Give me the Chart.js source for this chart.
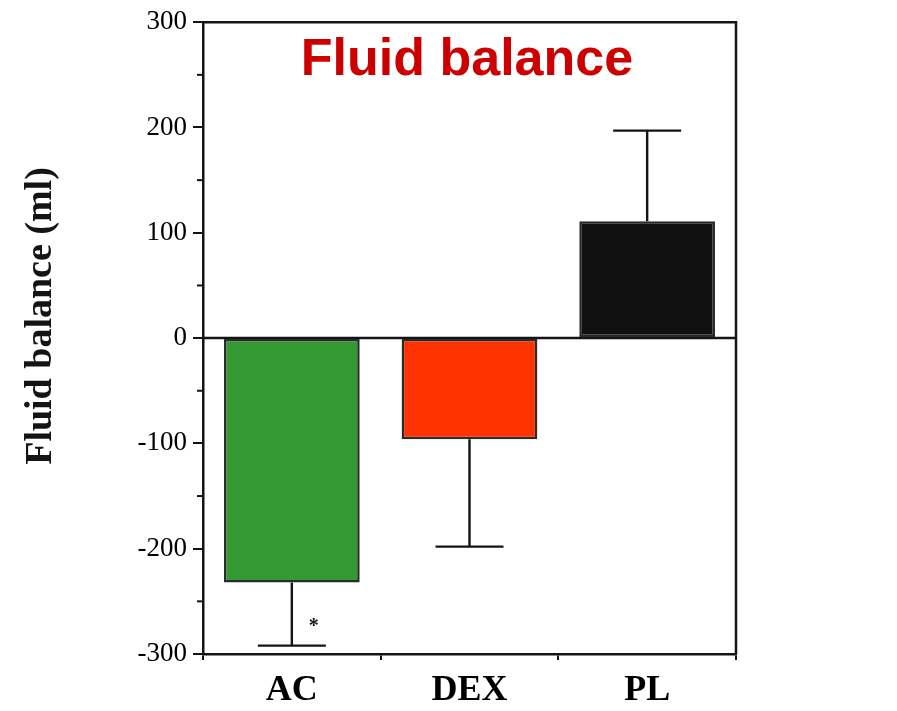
<!DOCTYPE html>
<html>
<head>
<meta charset="utf-8">
<title>Fluid balance</title>
<script src="https://cdn.jsdelivr.net/npm/chart.js@4.4.1/dist/chart.umd.min.js"></script>
<style>
    body { margin: 0; background: #fff; }
    #wrap { width: 897px; height: 711px; }
</style>
</head>
<body>
<div id="wrap"><canvas id="chartFluid" width="897" height="711"></canvas></div>
<script>
// values (ml)
var groups = ["AC", "DEX", "PL"];
var balance = [-232, -96, 111];
var errLow = [60, 102, 0];   // SD drawn below the bar
var errHigh = [0, 0, 86];    // SD drawn above the bar
var marks = ["*", "", ""];
var barColors = ["#339933", "#ff3300", "#111111"];

var chartTitle = "Fluid balance";
var yTitle = "Fluid balance (ml)";

var ink = "#141414";

var decorPlugin = {
    id: "decor",
    beforeDatasetsDraw: function (chart) {
        var ctx = chart.ctx;
        var a = chart.chartArea;
        var y = chart.scales.y;
        ctx.save();
        ctx.strokeStyle = ink;
        ctx.lineWidth = 2.5;
        // zero line
        var y0 = y.getPixelForValue(0);
        ctx.beginPath();
        ctx.moveTo(a.left, y0);
        ctx.lineTo(a.right, y0);
        ctx.stroke();
        // top and right frame
        ctx.beginPath();
        ctx.moveTo(a.left, a.top);
        ctx.lineTo(a.right, a.top);
        ctx.lineTo(a.right, a.bottom);
        ctx.stroke();
        // short minor ticks at the 50s
        ctx.lineWidth = 2;
        for (var v = -250; v <= 250; v += 100) {
            var py = y.getPixelForValue(v);
            ctx.beginPath();
            ctx.moveTo(a.left - 6, py);
            ctx.lineTo(a.left, py);
            ctx.stroke();
        }
        ctx.restore();
    },
    afterDatasetsDraw: function (chart) {
        var ctx = chart.ctx;
        var y = chart.scales.y;
        var meta = chart.getDatasetMeta(0);
        ctx.save();
        ctx.strokeStyle = ink;
        ctx.lineWidth = 2.4;
        meta.data.forEach(function (bar, i) {
            var capHalf = 34;
            var ends = [];
            if (errLow[i]) ends.push(balance[i] - errLow[i]);
            if (errHigh[i]) ends.push(balance[i] + errHigh[i]);
            ends.forEach(function (e) {
                var pe = y.getPixelForValue(e);
                ctx.beginPath();
                ctx.moveTo(bar.x, y.getPixelForValue(balance[i]));
                ctx.lineTo(bar.x, pe);
                ctx.moveTo(bar.x - capHalf, pe);
                ctx.lineTo(bar.x + capHalf, pe);
                ctx.stroke();
            });
            if (marks[i]) {
                ctx.fillStyle = ink;
                ctx.font = "bold 20px 'Liberation Serif'";
                ctx.textAlign = "center";
                ctx.textBaseline = "middle";
                var low = balance[i] - errLow[i];
                ctx.fillText(marks[i], bar.x + 22, y.getPixelForValue(low + 20) + 2);
            }
        });
        ctx.restore();
    },
    afterDraw: function (chart) {
        var ctx = chart.ctx;
        ctx.save();
        // red title
        ctx.fillStyle = "#cc0000";
        ctx.font = "bold 52px 'Liberation Sans'";
        ctx.textAlign = "center";
        ctx.textBaseline = "alphabetic";
        ctx.fillText(chartTitle, 467, 75);
        // rotated y title
        ctx.translate(51, 316);
        ctx.rotate(-Math.PI / 2);
        ctx.fillStyle = ink;
        ctx.font = "bold 38px 'Liberation Serif'";
        ctx.fillText(yTitle, 0, 0);
        ctx.restore();
    }
};

var ctx = document.getElementById("chartFluid");
var myChart = new Chart(ctx, {
    type: "bar",
    data: {
        labels: groups,
        datasets: [{
            data: balance,
            backgroundColor: barColors,
            borderColor: "#2a2a2a",
            borderWidth: 2.5,
            borderSkipped: false,
            categoryPercentage: 1.0,
            barPercentage: 0.764
        }]
    },
    options: {
        responsive: false,
        devicePixelRatio: 1,
        animation: false,
        layout: { padding: { top: 22, right: 161, left: 0, bottom: 0 } },
        plugins: {
            legend: { display: false },
            tooltip: { enabled: false },
            title: { display: false }
        },
        scales: {
            x: {
                afterFit: function (scale) { scale.height = 57; },
                grid: {
                    offset: true,
                    drawOnChartArea: false,
                    color: ink,
                    lineWidth: 2,
                    tickLength: 6
                },
                border: { color: ink, width: 2.5 },
                ticks: {
                    color: "#000",
                    padding: 9,
                    font: { family: "'Liberation Serif'", size: 36, weight: "bold" }
                }
            },
            y: {
                min: -300,
                max: 300,
                afterFit: function (scale) { scale.width = 203; },
                grid: {
                    drawOnChartArea: false,
                    color: ink,
                    tickColor: function (c) {
                        return c.tick.value % 100 === 0 ? ink : "rgba(0,0,0,0)";
                    },
                    lineWidth: 2,
                    tickLength: 10
                },
                border: { color: ink, width: 2.5 },
                ticks: {
                    stepSize: 50,
                    color: "#000",
                    padding: 6,
                    font: { family: "'Liberation Serif'", size: 27 },
                    callback: function (v) { return v % 100 === 0 ? v : ""; }
                }
            }
        }
    },
    plugins: [decorPlugin]
});
</script>
</body>
</html>
